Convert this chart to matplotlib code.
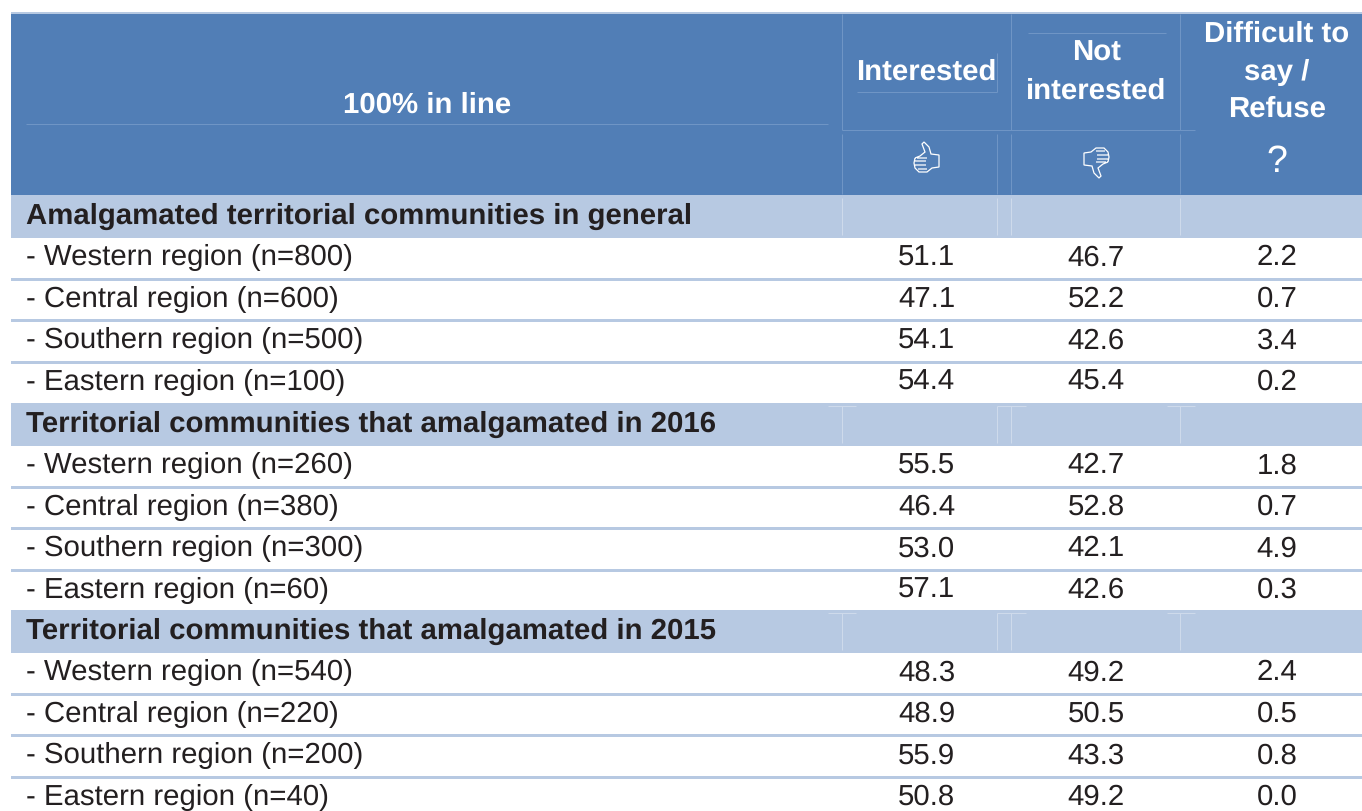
import matplotlib
matplotlib.use("Agg")
from matplotlib import pyplot as plt
from matplotlib.patches import Rectangle, PathPatch
from matplotlib.path import Path
from matplotlib.transforms import Affine2D

plt.rcParams['font.family'] = ['Liberation Sans', 'DejaVu Sans']
plt.rcParams['text.hinting'] = 'no_hinting'

HEAD = "#517eb6"
BAND = "#b7c9e2"
INK = "#231f20"
THIN = "#7096c6"
FS = 21.15

sections = ["Amalgamated territorial communities in general",
            "Territorial communities that amalgamated in 2016",
            "Territorial communities that amalgamated in 2015"]
labels = [["- Western region (n=800)", "- Central region (n=600)", "- Southern region (n=500)", "- Eastern region (n=100)"],
          ["- Western region (n=260)", "- Central region (n=380)", "- Southern region (n=300)", "- Eastern region (n=60)"],
          ["- Western region (n=540)", "- Central region (n=220)", "- Southern region (n=200)", "- Eastern region (n=40)"]]
interested = [[51.1, 47.1, 54.1, 54.4], [55.5, 46.4, 53.0, 57.1], [48.3, 48.9, 55.9, 50.8]]
not_interested = [[46.7, 52.2, 42.6, 45.4], [42.7, 52.8, 42.1, 42.6], [49.2, 50.5, 43.3, 49.2]]
difficult = [[2.2, 0.7, 3.4, 0.2], [1.8, 0.7, 4.9, 0.3], [2.4, 0.5, 0.8, 0.0]]

section_tops = [195, 403, 610]
section_h = 43
row_h = 41.5
col_x = [926.5, 1096, 1277]
sep_x = [842, 1011, 1180]

fig = plt.figure(figsize=(13.62, 8.11), dpi=100)
ax = fig.add_axes([0, 0, 1, 1])
ax.set_xlim(0, 1362)
ax.set_ylim(811, 0)
ax.axis("off")


def hline(x0, x1, y, c=THIN, lw=0.7):
    ax.plot([x0, x1], [y, y], color=c, lw=lw, solid_capstyle="butt")


def vline(x, y0, y1, c=THIN, lw=0.7):
    ax.plot([x, x], [y0, y1], color=c, lw=lw, solid_capstyle="butt")


# header block
ax.add_patch(Rectangle((11, 12), 1351, 2, fc=BAND, ec="none"))
ax.add_patch(Rectangle((11, 14), 1351, 181, fc=HEAD, ec="none"))
hline(26, 828, 124)
hline(842, 1195, 130)
hline(1028, 1166, 33)
hline(857, 997, 92)
vline(997, 53, 92)
for x in sep_x:
    vline(x, 14, 130)
    vline(x, 134, 194)
vline(997, 134, 194)

white = dict(color="white", fontweight="bold", ha="center", va="center", fontsize=FS)
ax.text(427, 105, "100% in line", **white)
ax.text(col_x[0], 72.5, "Interested", **white)
ax.text(col_x[1], 72, "Not\ninterested", linespacing=1.5, **white)
ax.text(col_x[2], 72, "Difficult to\nsay /\nRefuse", linespacing=1.5, **white)
ax.text(col_x[2], 162, "?", color="white", ha="center", va="center", fontsize=27)

# thumb icon, drawn pointing up
thumb = Path([(-12, -1), (-7, -3), (-2, -7), (-5, -15), (-3, -17), (2, -12), (4, -5), (12, -4),
              (12, 8), (5, 9), (0, 13), (-8, 13), (-12, 9), (-13, 4), (-12, -1),
              (-12, 2), (-1, 2), (-12, 6), (-1, 6), (-9, 10), (0, 10), (-10, -1), (0, -1)],
             [1, 2, 2, 2, 2, 2, 2, 2, 2, 2, 2, 2, 2, 2, 2,
              1, 2, 1, 2, 1, 2, 1, 2])
ax.add_patch(PathPatch(thumb, fc="none", ec="white", lw=0.9,
                       transform=Affine2D().translate(927, 159) + ax.transData))
ax.add_patch(PathPatch(thumb, fc="none", ec="white", lw=0.9,
                       transform=Affine2D().scale(-1, -1).translate(1096, 161) + ax.transData))

# section bands and rows
for s, top in enumerate(section_tops):
    ax.add_patch(Rectangle((11, top), 1351, section_h, fc=BAND, ec="none"))
    ax.text(26, top + section_h / 2 - 0.5, sections[s], color=INK, fontweight="bold",
            ha="left", va="center", fontsize=FS)
    for x in [842, 997, 1011, 1180]:
        vline(x, top + 3, top + section_h - 3, c="#cfdbec")
    if s > 0:
        for x0, x1 in [(828, 856), (997, 1026), (1167, 1195)]:
            hline(x0, x1, top + 3, c="#cfdbec")
    for r in range(4):
        y0 = top + section_h + r * row_h
        ym = y0 + row_h / 2 - 1
        if r < 3:
            ax.add_patch(Rectangle((11, y0 + row_h - 2), 1351, 3, fc=BAND, ec="none"))
        ax.text(26, ym, labels[s][r], color=INK, ha="left", va="center", fontsize=FS)
        vals = [interested[s][r], not_interested[s][r], difficult[s][r]]
        for x, v in zip(col_x, vals):
            ax.text(x, ym, f"{v:.1f}", color=INK, ha="center", va="center", fontsize=FS)

fig.savefig("out.png", dpi=100)
